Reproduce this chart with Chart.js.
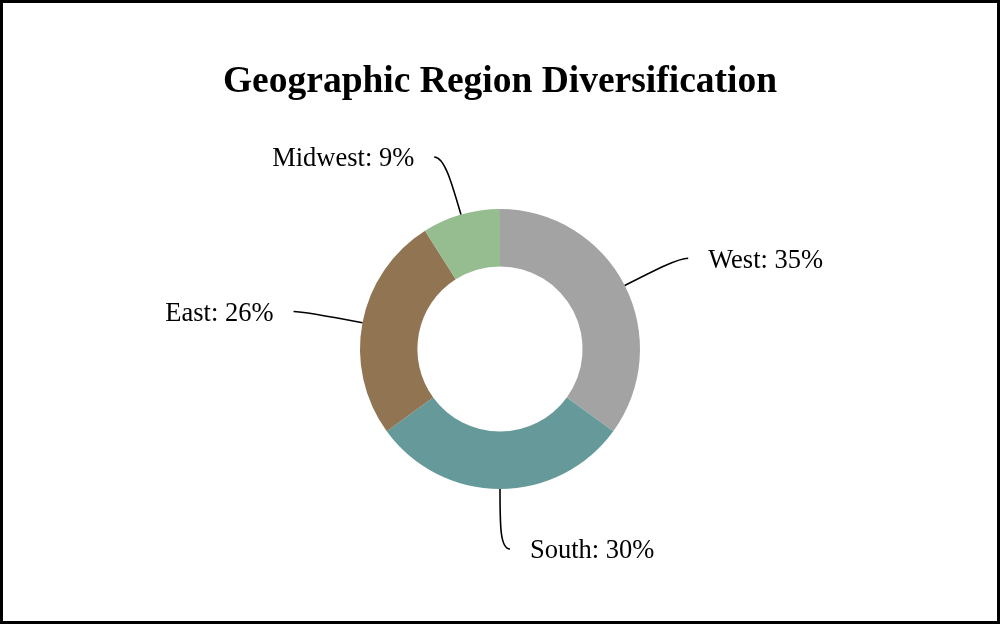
<!DOCTYPE html>
<html>
<head>
<meta charset="utf-8">
<script src="https://cdn.jsdelivr.net/npm/chart.js@4"></script>
<style>
  html, body { margin: 0; padding: 0; background: #fff; }
  #wrap { width: 1000px; height: 624px; position: relative; }
</style>
</head>
<body>
<div id="wrap"><canvas id="chart" width="1000" height="624"></canvas></div>
<script>
/* ---------- DATA ---------- */
const regions = ['West', 'South', 'East', 'Midwest'];
const shares  = [35, 30, 26, 9];
const colors  = ['#a3a3a3', '#669a9a', '#917552', '#95bd90'];

const FONT = "'Liberation Serif', 'Times New Roman', serif";

/* ---------- LABELS WITH LEADER LINES ---------- */
const leaderLabels = {
  id: 'leaderLabels',
  afterDatasetsDraw(chart) {
    const ctx = chart.ctx;
    const meta = chart.getDatasetMeta(0);
    ctx.save();
    ctx.strokeStyle = '#000';
    ctx.lineWidth = 1.6;
    ctx.fillStyle = '#000';
    ctx.font = '26.5px ' + FONT;
    ctx.textBaseline = 'middle';

    meta.data.forEach((arc, i) => {
      const p = arc.getProps(['x', 'y', 'startAngle', 'endAngle', 'outerRadius'], true);
      const mid = (p.startAngle + p.endAngle) / 2;
      const dx = Math.cos(mid), dy = Math.sin(mid);
      const x0 = p.x + dx * p.outerRadius;
      const y0 = p.y + dy * p.outerRadius;
      const side = dx >= -1e-6 ? 1 : -1;
      const out = 60, run = 10;
      const x3 = x0 + dx * out + side * run;
      const y3 = y0 + dy * out;

      ctx.beginPath();
      ctx.moveTo(x0, y0);
      ctx.bezierCurveTo(
        x0 + dx * out * 0.6, y0 + dy * out * 0.6,
        x3 - side * run, y3,
        x3, y3
      );
      ctx.stroke();

      const text = regions[i] + ': ' + shares[i] + '%';
      ctx.textAlign = side > 0 ? 'left' : 'right';
      ctx.fillText(text, x3 + side * 20, y3 + 2.5);
    });
    ctx.restore();
  }
};

/* ---------- FRAME ---------- */
const frame = {
  id: 'frame',
  beforeDraw(chart) {
    const ctx = chart.ctx;
    ctx.save();
    ctx.fillStyle = '#fff';
    ctx.fillRect(0, 0, chart.width, chart.height);
    ctx.restore();
  },
  afterDraw(chart) {
    const ctx = chart.ctx;
    ctx.save();
    ctx.strokeStyle = '#000';
    ctx.lineWidth = 3;
    ctx.strokeRect(1.5, 1.5, chart.width - 3, chart.height - 3);
    ctx.restore();
  }
};

new Chart(document.getElementById('chart'), {
  type: 'doughnut',
  data: {
    labels: regions,
    datasets: [{
      data: shares,
      backgroundColor: colors,
      borderWidth: 0
    }]
  },
  options: {
    responsive: false,
    animation: false,
    cutout: '59%',
    layout: { padding: { top: 0, bottom: 135, left: 0, right: 0 } },
    plugins: {
      legend: { display: false },
      tooltip: { enabled: false },
      title: {
        display: true,
        text: 'Geographic Region Diversification',
        color: '#000',
        font: { family: FONT, size: 37.5, weight: 'bold', lineHeight: 1.2 },
        padding: { top: 60, bottom: 104 }
      }
    }
  },
  plugins: [frame, leaderLabels]
});
</script>
</body>
</html>
